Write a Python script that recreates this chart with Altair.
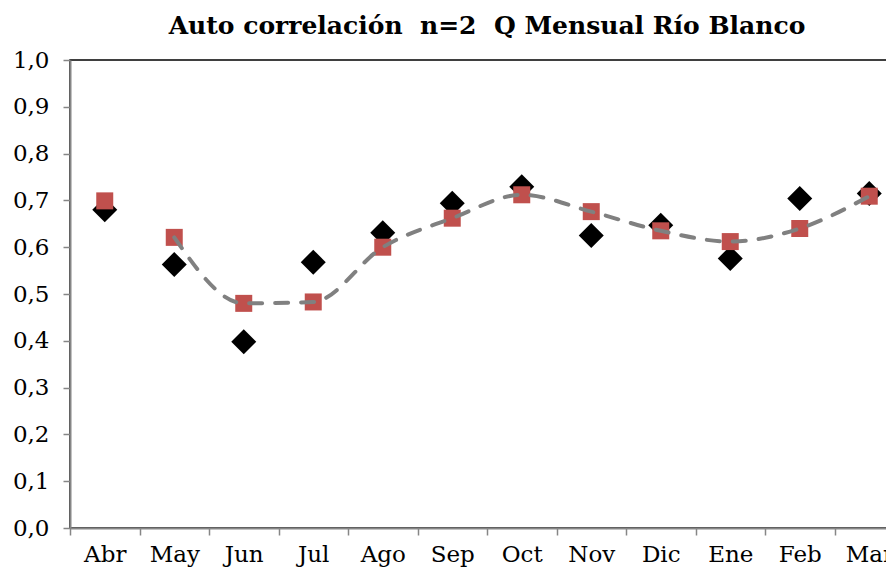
import altair as alt
import pandas as pd

months = ["Abr", "May", "Jun", "Jul", "Ago", "Sep", "Oct", "Nov", "Dic", "Ene", "Feb", "Mar"]
observed = [0.680, 0.563, 0.398, 0.568, 0.631, 0.694, 0.729, 0.625, 0.647, 0.576, 0.704, 0.715]
model = [0.699, 0.621, 0.480, 0.483, 0.600, 0.662, 0.712, 0.676, 0.635, 0.612, 0.640, 0.709]
line_from = 1  # dashed line starts at May

df = pd.DataFrame({"mes": months, "obs": observed, "mod": model})
df_line = df.iloc[line_from:].copy()

FONT = "DejaVu Serif"

x_enc = alt.X("mes:N", sort=months, scale=alt.Scale(paddingInner=0, paddingOuter=0),
              axis=alt.Axis(title=None, labelAngle=0, tickBand="extent", labelPadding=8,
                            labelFont=FONT, labelFontSize=23, labelColor="#000000",
                            domainColor="#868686", domainWidth=2, tickColor="#868686",
                            tickWidth=1.5, tickSize=7))
y_scale = alt.Scale(domain=[0, 1], nice=False, zero=True)
y_axis = alt.Axis(title=None, values=[i / 10 for i in range(11)], grid=False,
                  labelExpr="replace(format(datum.value, '.1f'), '.', ',')",
                  labelFont=FONT, labelFontSize=23, labelColor="#000000", labelPadding=14,
                  domainColor="#868686", domainWidth=2, tickColor="#868686",
                  tickWidth=1.5, tickSize=7)

diamonds = alt.Chart(df).mark_point(shape="diamond", filled=True, color="#000000",
                                    size=625, opacity=1).encode(
    x=x_enc, y=alt.Y("obs:Q", scale=y_scale, axis=y_axis))
squares = alt.Chart(df).mark_point(shape="square", filled=True, color="#C0504D",
                                   size=289, opacity=1).encode(
    x=alt.X("mes:N", sort=months), y=alt.Y("mod:Q", scale=y_scale))
line = alt.Chart(df_line).mark_line(color="#808080", strokeWidth=4, strokeDash=[13, 13],
                                    strokeCap="round", interpolate="monotone").encode(
    x=alt.X("mes:N", sort=months), y=alt.Y("mod:Q", scale=y_scale))

chart = alt.layer(diamonds, squares, line).properties(
    width=834, height=468,
    title=alt.TitleParams("Auto correlación\u00a0\u00a0n=2\u00a0\u00a0Q Mensual Río Blanco",
                          font=FONT, fontSize=25, fontWeight="bold", color="#000000",
                          anchor="middle", offset=10),
    autosize=alt.AutoSizeParams(type="none"),
    padding={"left": 62, "top": 52, "right": -18, "bottom": 44},
).configure_view(stroke="#000000", strokeWidth=1.5, fill="white")

chart.save("out.html", embed_options={"renderer": "svg", "actions": False})
